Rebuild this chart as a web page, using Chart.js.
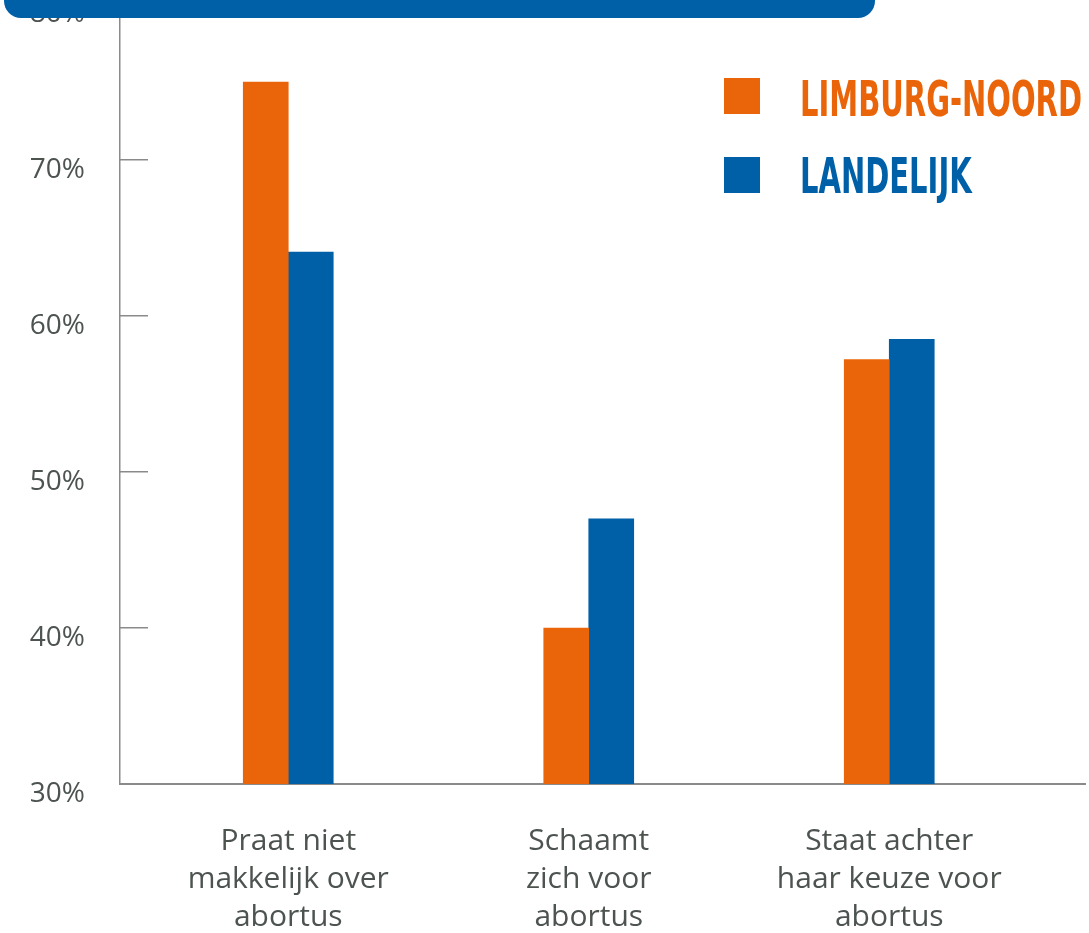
<!DOCTYPE html>
<html>
<head>
<meta charset="utf-8">
<script src="https://cdn.jsdelivr.net/npm/chart.js@4.4.1/dist/chart.umd.min.js"></script>
<style>
  html, body { margin: 0; padding: 0; background: #fff; }
  #wrap { width: 1089px; height: 933px; }
</style>
</head>
<body>
<div id="wrap"><canvas id="abortusChart"></canvas></div>
<script>
// data
const categories = [
    ['Praat niet', 'makkelijk over', 'abortus'],
    ['Schaamt', 'zich voor', 'abortus'],
    ['Staat achter', 'haar keuze voor', 'abortus']
];
const seriesNames = ['LIMBURG-NOORD', 'LANDELIJK'];
const limburgNoord = [75, 40, 57.2];
const landelijk = [64.1, 47, 58.5];
const yTicks = [30, 40, 50, 60, 70, 80];

const ORANGE = '#ea6509';
const BLUE = '#0060a7';
const AXIS = '#8a8a8a';
const TEXT = '#4d5450';

/* categories in the original are not spaced evenly, nudge the x scale a bit */
const shiftX = {
    id: 'shiftX',
    afterLayout(chart) {
        const x = chart.scales.x;
        x._startPixel = chart.chartArea.left + 18;
        x._length = 901.5;
    }
};

/* blue header strip at the top + legend boxes on the right */
const decor = {
    id: 'decor',
    afterDraw(chart) {
        const ctx = chart.ctx;
        ctx.save();
        ctx.fillStyle = BLUE;
        ctx.beginPath();
        ctx.roundRect(4, -30, 871, 48, 17);
        ctx.fill();

        ctx.font = 'bold 50px "DejaVu Sans Condensed", "DejaVu Sans", sans-serif';
        ctx.textBaseline = 'alphabetic';
        // squeeze the text so the first label is ~282px wide
        const squeeze = 282 / ctx.measureText(chart.data.datasets[0].label).width;

        chart.data.datasets.forEach((ds, i) => {
            const top = 78 + i * 79;
            ctx.fillStyle = ds.backgroundColor;
            ctx.fillRect(724, top, 36, 36);
            ctx.save();
            ctx.translate(800, top + 38 - i * 2);
            ctx.scale(squeeze, 1);
            ctx.fillText(ds.label, 0, 0);
            ctx.restore();
        });
        ctx.restore();
    }
};

new Chart(document.getElementById('abortusChart'), {
    type: 'bar',
    data: {
        labels: categories,
        datasets: [
            { label: seriesNames[0], data: limburgNoord, backgroundColor: ORANGE, barThickness: 45 },
            { label: seriesNames[1], data: landelijk, backgroundColor: BLUE, barThickness: 45 }
        ]
    },
    options: {
        responsive: true,
        maintainAspectRatio: false,
        animation: false,
        layout: { padding: { top: 4, right: 4, left: 0, bottom: 0 } },
        plugins: {
            legend: { display: false },
            tooltip: { enabled: false }
        },
        scales: {
            x: {
                afterFit: s => {
                    s.height = 149;
                    s.paddingLeft = 0;
                    s.paddingRight = 0;
                },
                border: { color: AXIS, width: 2 },
                grid: { display: false, drawTicks: false },
                ticks: {
                    padding: 38,
                    color: TEXT,
                    maxRotation: 0,
                    autoSkip: false,
                    font: { family: 'Open Sans', size: 30, lineHeight: 1.27 }
                }
            },
            y: {
                min: 30,
                max: 80,
                afterFit: s => {
                    s.width = 120;
                    s.paddingTop = 0;
                    s.paddingBottom = 0;
                },
                afterBuildTicks: s => { s.ticks = yTicks.map(v => ({ value: v })); },
                border: { color: AXIS, width: 1.5 },
                grid: { drawOnChartArea: false, tickLength: -28, color: AXIS, lineWidth: 1.5 },
                ticks: {
                    padding: 63,
                    labelOffset: 10,
                    color: TEXT,
                    font: { family: 'Open Sans', size: 28 },
                    callback: v => v + '%'
                }
            }
        }
    },
    plugins: [shiftX, decor]
});
</script>
</body>
</html>
